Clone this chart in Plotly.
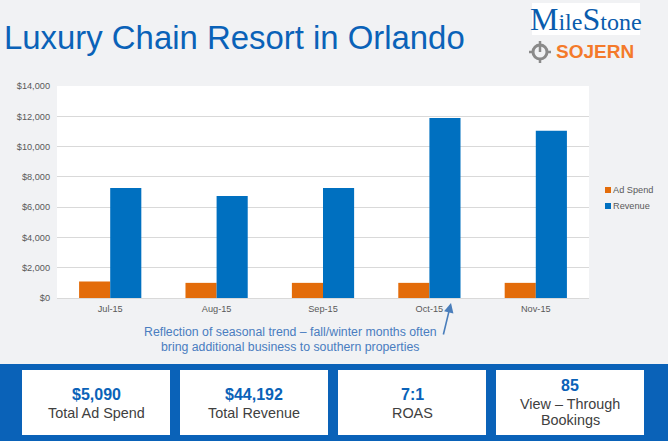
import plotly.graph_objects as go

W, H = 668, 441
L, R, T, B = 57, 589, 86, 298

months = ["Jul-15", "Aug-15", "Sep-15", "Oct-15", "Nov-15"]
ad_spend = [1090, 1000, 1000, 1000, 1000]
revenue = [7260, 6740, 7270, 11880, 11042]
y_ticks = [0, 2000, 4000, 6000, 8000, 10000, 12000, 14000]
y_labels = ["$0", "$2,000", "$4,000", "$6,000", "$8,000", "$10,000", "$12,000", "$14,000"]
kpi_values = ["$5,090", "$44,192", "7:1", "85"]
kpi_labels = [["Total Ad Spend"], ["Total Revenue"], ["ROAS"], ["View – Through", "Bookings"]]

BLUE = "#0a62b8"
ORANGE = "#e36c0a"
REV = "#0070c0"
GRAY = "#8a8a8a"
NOTE = "#4a7dc0"
FONT = "Liberation Sans, Arial, sans-serif"


def px(x):
    return (x - L) / (R - L)


def py(y):
    return (B - y) / (B - T)


def rect(x0, y0, x1, y1, color, layer="below"):
    return dict(type="rect", xref="paper", yref="paper", x0=px(x0), x1=px(x1),
                y0=py(y0), y1=py(y1), fillcolor=color, line_width=0, layer=layer)


def line(x0, y0, x1, y1, color, width):
    return dict(type="line", xref="paper", yref="paper", x0=px(x0), x1=px(x1),
                y0=py(y0), y1=py(y1), line=dict(color=color, width=width))


def text(x, y, s, size, color, anchor="center", bold=False, family=FONT):
    return dict(xref="paper", yref="paper", x=px(x), y=py(y), text=f"<b>{s}</b>" if bold else s,
                showarrow=False, xanchor=anchor, yanchor="middle", align="center",
                font=dict(size=size, color=color, family=family))


fig = go.Figure()
fig.add_bar(x=months, y=ad_spend, name="Ad Spend", marker_color=ORANGE, marker_line_width=0)
fig.add_bar(x=months, y=revenue, name="Revenue", marker_color=REV, marker_line_width=0)

big = '<span style="font-size:32px">{}</span>'
logo = big.format("M") + "ile" + big.format("S") + "tone"

shapes = [rect(0, 364, W, H, BLUE), rect(532, 3, 640, 35, "#ffffff")]
annotations = [
    text(2, 37, "Luxury Chain Resort in Orlando", 32.9, BLUE, "left"),
    text(586, 19, logo, 24, "#0a5cad", family="Liberation Serif, serif"),
    text(594.5, 52, "SOJERN", 19, "#f47a2a", bold=True),
    text(290, 332, "Reflection of seasonal trend – fall/winter months often", 12.3, NOTE),
    text(290, 347, "bring additional business to southern properties", 12.3, NOTE),
    dict(xref="paper", yref="paper", axref="pixel", ayref="pixel", x=px(451), y=py(303),
         ax=-8, ay=33, text="", showarrow=True, arrowhead=2, arrowsize=1.2,
         arrowwidth=1.6, arrowcolor="#4a7ebb"),
    text(610.5, 190, "Ad Spend", 9.2, "#595959", "left"),
    text(610.5, 206, "Revenue", 9.2, "#595959", "left"),
]
shapes += [
    rect(605, 187, 611, 193, ORANGE),
    rect(605, 203, 611, 209, REV),
    dict(type="circle", xref="paper", yref="paper", x0=px(533), x1=px(547), y0=py(45), y1=py(59),
         line=dict(color=GRAY, width=3), fillcolor="rgba(0,0,0,0)"),
    line(540, 41, 540, 52, GRAY, 2.5),
    line(540, 59, 540, 63, GRAY, 2.5),
    line(529, 52, 533, 52, GRAY, 2.5),
    line(547, 52, 551, 52, GRAY, 2.5),
]

boxes = [(22, 170), (180, 328), (338, 486), (496, 644)]
for (x0, x1), val, lab in zip(boxes, kpi_values, kpi_labels):
    shapes.append(rect(x0, 370, x1, 435, "#ffffff"))
    cx = (x0 + x1) / 2
    two = len(lab) == 2
    annotations.append(text(cx, 385 if two else 394, val, 16, BLUE, bold=True))
    if two:
        annotations.append(text(cx, 404, lab[0], 14.4, "#404040"))
        annotations.append(text(cx, 420, lab[1], 14.4, "#404040"))
    else:
        annotations.append(text(cx, 413, lab[0], 14.4, "#404040"))

fig.update_layout(
    width=W, height=H,
    margin=dict(l=L, r=W - R, t=T, b=H - B, pad=0),
    paper_bgcolor="#f1f2f4", plot_bgcolor="#ffffff",
    barmode="group", bargap=0.415, bargroupgap=0,
    font=dict(family=FONT, size=9, color="#595959"),
    showlegend=False,
    shapes=shapes, annotations=annotations,
)
fig.update_xaxes(showgrid=False, showline=True, linecolor="#d9d9d9", linewidth=1, ticks="",
                 ticklabelstandoff=2, tickfont=dict(size=9.2, color="#595959"))
fig.update_yaxes(range=[0, 14000], tickvals=y_ticks, ticktext=y_labels, showgrid=True,
                 gridcolor="#d9d9d9", gridwidth=1, zeroline=False, ticks="",
                 ticklabelstandoff=6, tickfont=dict(size=9.2, color="#595959"))
fig.write_html("out.html", config=dict(displayModeBar=False),
               post_script="document.body.style.margin='0';document.documentElement.style.background='#f1f2f4';")
